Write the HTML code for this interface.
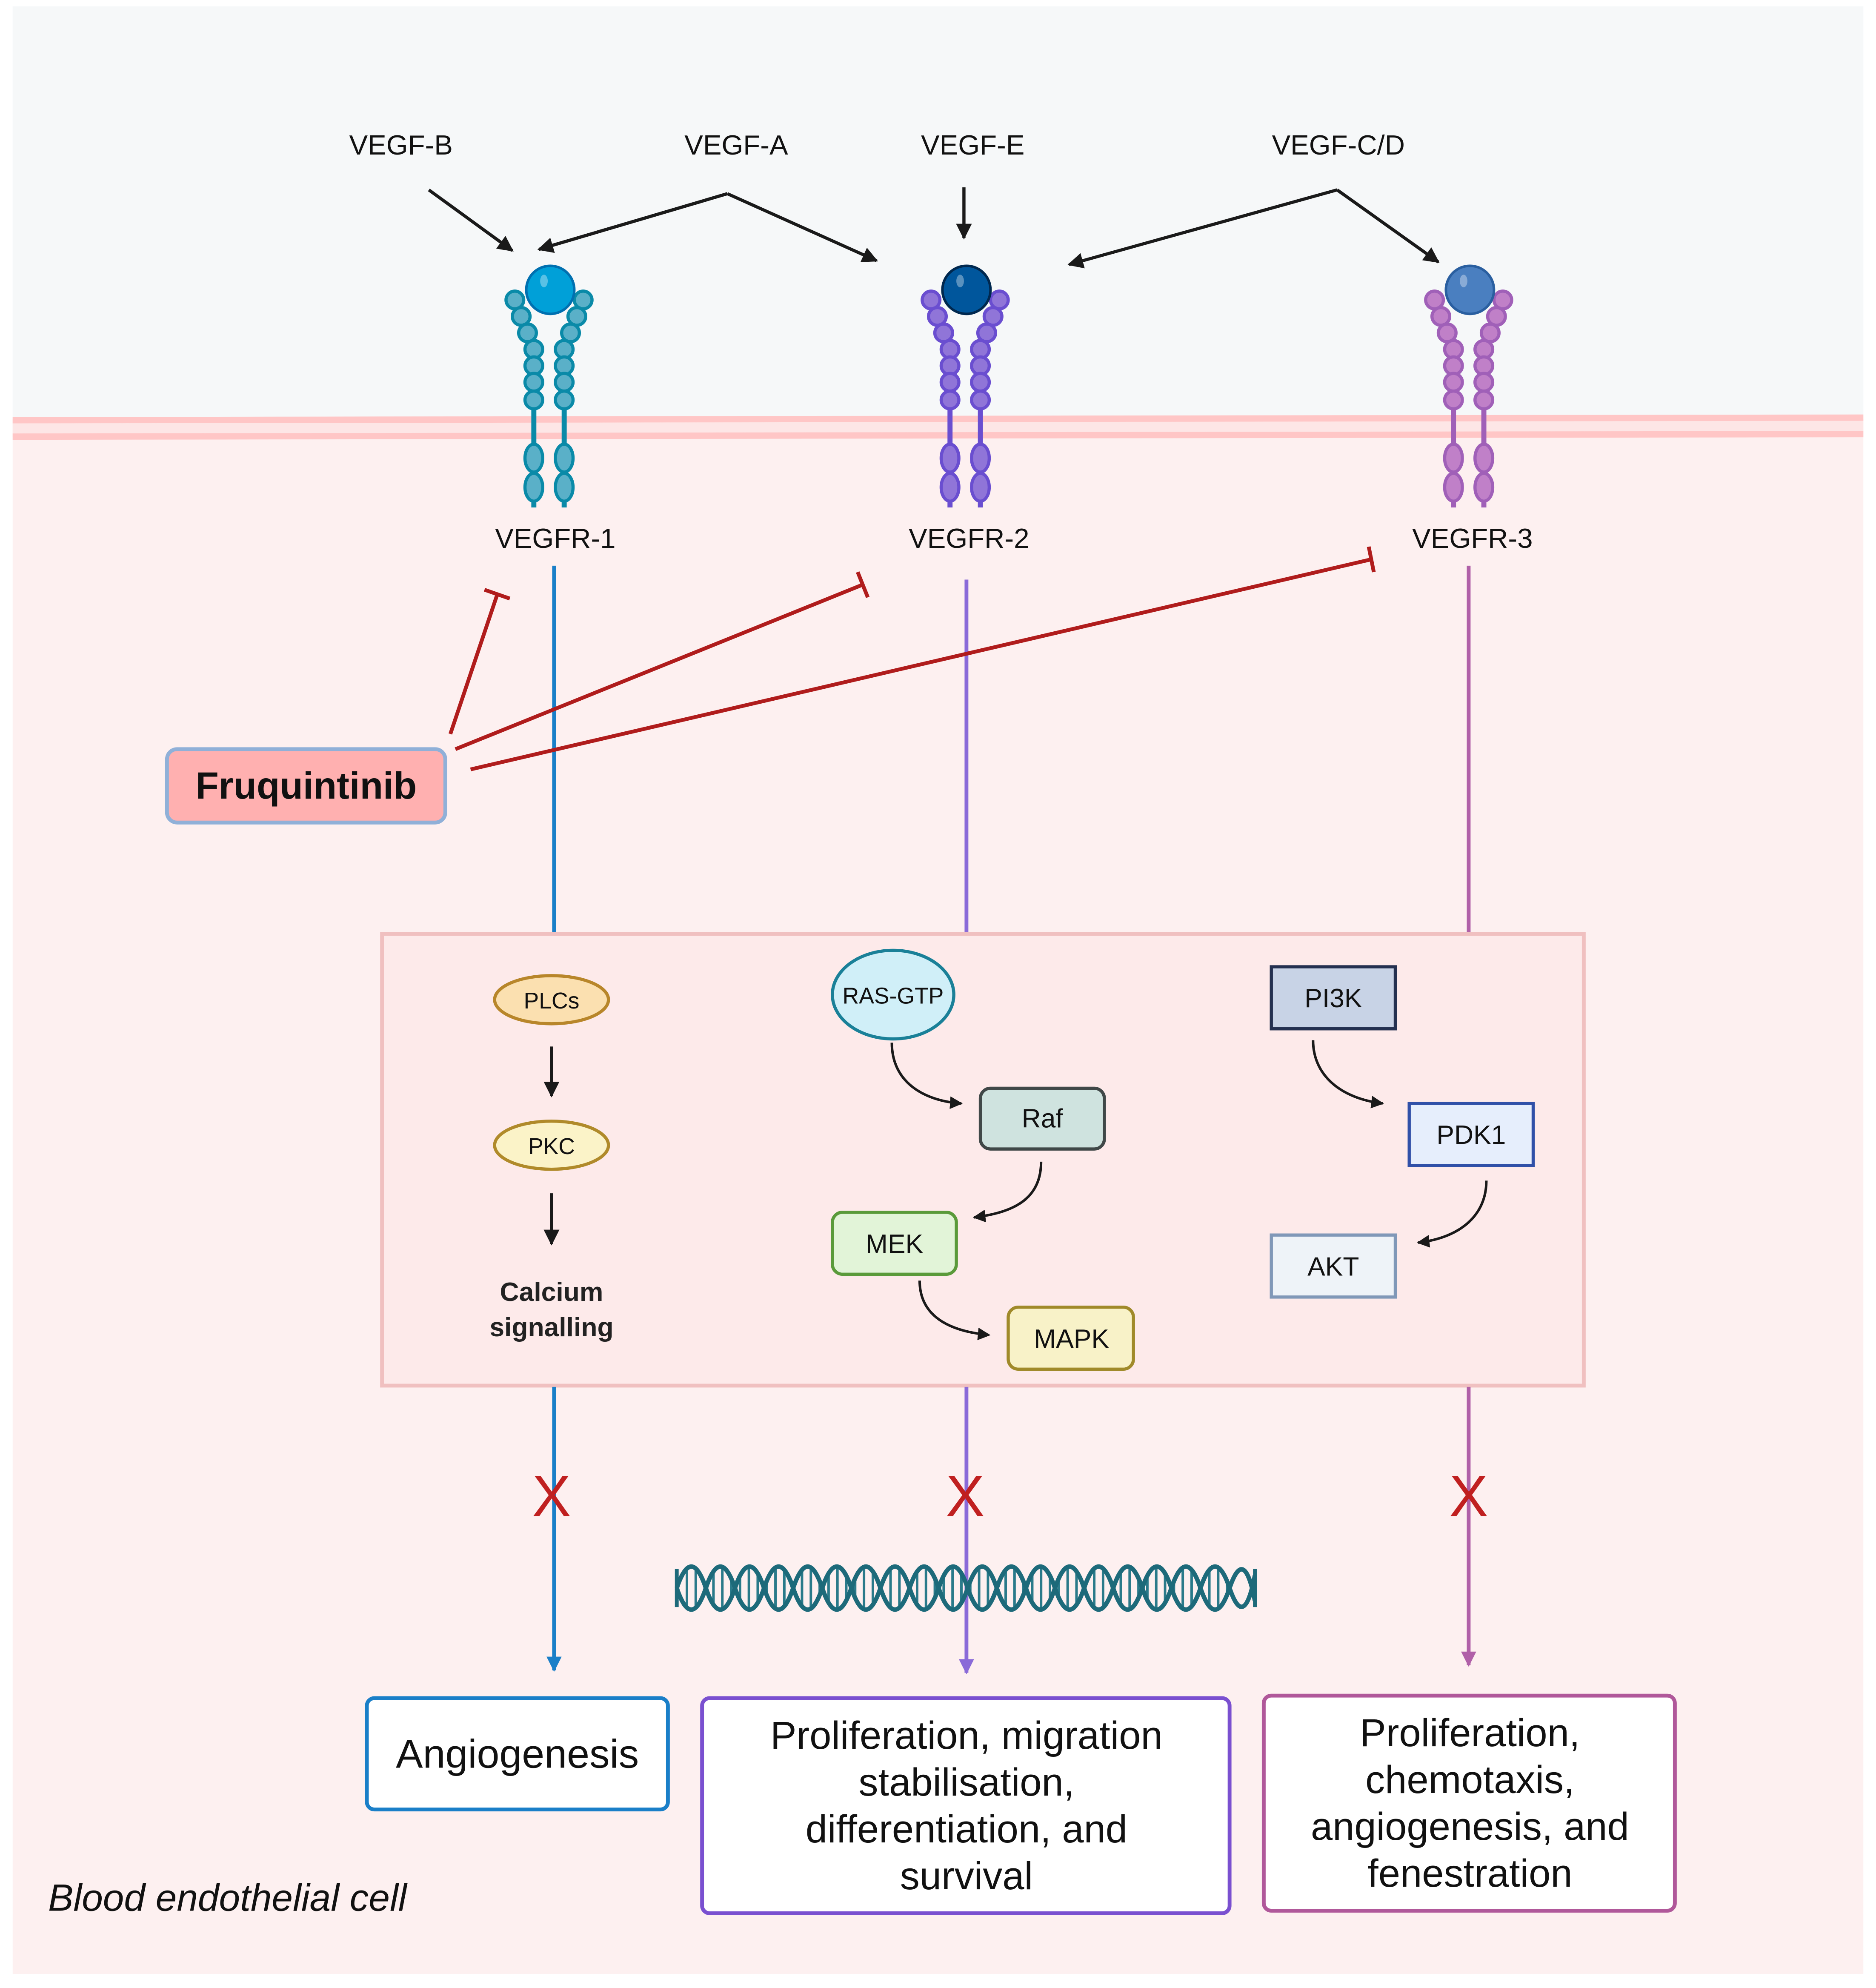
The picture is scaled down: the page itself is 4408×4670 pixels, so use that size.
<!DOCTYPE html>
<html><head><meta charset="utf-8"><style>
html,body{margin:0;padding:0;background:#fff}
svg{display:block}
text{font-family:"Liberation Sans",Arial,sans-serif}
</style></head><body>
<svg width="4408" height="4670" viewBox="0 0 1483 1571" xmlns="http://www.w3.org/2000/svg">
<defs>
<marker id="ah" viewBox="0 0 10 10" refX="9" refY="5" markerWidth="5" markerHeight="5" orient="auto"><path d="M0,0 L10,5 L0,10 z" fill="#1a1a1a"/></marker>
<marker id="ahb" viewBox="0 0 10 10" refX="9" refY="5" markerWidth="4" markerHeight="4" orient="auto"><path d="M0,0 L10,5 L0,10 z" fill="#1a7fc8"/></marker>
<marker id="ahp" viewBox="0 0 10 10" refX="9" refY="5" markerWidth="4" markerHeight="4" orient="auto"><path d="M0,0 L10,5 L0,10 z" fill="#8a6ad8"/></marker>
<marker id="ahm" viewBox="0 0 10 10" refX="9" refY="5" markerWidth="4" markerHeight="4" orient="auto"><path d="M0,0 L10,5 L0,10 z" fill="#b060a8"/></marker>
<symbol id="rec" overflow="visible">
 <g fill="var(--f)" stroke="var(--s)" stroke-width="2.5">
  <line x1="-12" y1="316" x2="-12" y2="401" stroke-width="4"/>
  <line x1="12" y1="316" x2="12" y2="401" stroke-width="4"/>
  <circle cx="-27" cy="237" r="7"/><circle cx="27" cy="237" r="7"/>
  <circle cx="-22" cy="250" r="7"/><circle cx="22" cy="250" r="7"/>
  <circle cx="-17" cy="263" r="7"/><circle cx="17" cy="263" r="7"/>
  <circle cx="-12" cy="276" r="7"/><circle cx="12" cy="276" r="7"/>
  <circle cx="-12" cy="289" r="7"/><circle cx="12" cy="289" r="7"/>
  <circle cx="-12" cy="302" r="7"/><circle cx="12" cy="302" r="7"/>
  <circle cx="-12" cy="316" r="7"/><circle cx="12" cy="316" r="7"/>
  <ellipse cx="-12" cy="362" rx="7" ry="11"/><ellipse cx="12" cy="362" rx="7" ry="11"/>
  <ellipse cx="-12" cy="385" rx="7" ry="11"/><ellipse cx="12" cy="385" rx="7" ry="11"/>
 </g>
 <circle cx="1" cy="229" r="19" fill="var(--b)" stroke="var(--bs)" stroke-width="2"/>
 <ellipse cx="-4" cy="222" rx="3" ry="5" fill="#fff" opacity="0.35"/>
</symbol>
<clipPath id="dnaclip"><path id="lens" d=""/></clipPath>
</defs>

<rect x="0" y="0" width="1483" height="1571" fill="#fff"/>
<rect x="10" y="5" width="1463" height="330" fill="#f6f8f9"/>
<rect x="10" y="333" width="1463" height="1227" fill="#fdf0f0"/>
<rect x="10" y="331" width="1463" height="14" fill="#fde6e6"/>
<line x1="10" y1="332" x2="1473" y2="330" stroke="#ffc6c6" stroke-width="5"/>
<line x1="10" y1="345" x2="1473" y2="343" stroke="#ffc6c6" stroke-width="5"/>

<!-- ligand labels -->
<g font-size="22" fill="#111" text-anchor="middle">
<text x="317" y="122">VEGF-B</text>
<text x="582" y="122">VEGF-A</text>
<text x="769" y="122">VEGF-E</text>
<text x="1058" y="122">VEGF-C/D</text>
</g>
<g stroke="#1a1a1a" stroke-width="2.5" fill="none" marker-end="url(#ah)">
<line x1="339" y1="150" x2="405" y2="198"/>
<polyline points="426,197 575,153" marker-end="none"/>
<line x1="575" y1="153" x2="426" y2="197" marker-end="url(#ah)"/>
<line x1="575" y1="153" x2="693" y2="206"/>
<line x1="762" y1="148" x2="762" y2="188"/>
<line x1="1057" y1="150" x2="845" y2="209"/>
<line x1="1057" y1="150" x2="1137" y2="207"/>
</g>

<use href="#rec" x="434" y="0" style="--f:#5ab0c8;--s:#0a8aa8;--b:#00a0d8;--bs:#0070b0"/>
<use href="#rec" x="763" y="0" style="--f:#9075d8;--s:#6a4ed0;--b:#00569c;--bs:#00284f"/>
<use href="#rec" x="1161" y="0" style="--f:#c080c8;--s:#a060b8;--b:#4a7fc0;--bs:#2a5fa0"/>

<g font-size="22" fill="#111" text-anchor="middle">
<text x="439" y="433">VEGFR-1</text>
<text x="766" y="433">VEGFR-2</text>
<text x="1164" y="433">VEGFR-3</text>
</g>

<!-- vertical pathway lines -->
<line x1="438" y1="447" x2="438" y2="738" stroke="#1a7fc8" stroke-width="3"/>
<line x1="764" y1="458" x2="764" y2="738" stroke="#8a6ad8" stroke-width="3"/>
<line x1="1161" y1="447" x2="1161" y2="738" stroke="#b060a8" stroke-width="3"/>

<!-- inhibition -->
<g stroke="#b01c1c" stroke-width="3" fill="none">
<line x1="356" y1="580" x2="393" y2="470"/>
<line x1="383" y1="466" x2="403" y2="473"/>
<line x1="360" y1="592" x2="682" y2="462"/>
<line x1="678" y1="452" x2="686" y2="472"/>
<line x1="372" y1="608" x2="1084" y2="442"/>
<line x1="1082" y1="432" x2="1086" y2="452"/>
</g>

<rect x="132" y="592" width="220" height="58" rx="8" fill="#ffb0b0" stroke="#90b0d8" stroke-width="3"/>
<text x="242" y="631" font-size="30" font-weight="bold" text-anchor="middle" fill="#111">Fruquintinib</text>

<!-- pathway box -->
<rect x="302" y="738" width="950" height="357" fill="#fdeaea" stroke="#f0c0c0" stroke-width="3"/>

<ellipse cx="436" cy="790" rx="45" ry="19" fill="#fbe0b0" stroke="#b8862a" stroke-width="2.5"/>
<text x="436" y="797" font-size="18" text-anchor="middle" fill="#111">PLCs</text>
<ellipse cx="436" cy="905" rx="45" ry="19" fill="#fbf3c8" stroke="#b08a2a" stroke-width="2.5"/>
<text x="436" y="912" font-size="18" text-anchor="middle" fill="#111">PKC</text>
<g stroke="#1a1a1a" stroke-width="2.5" marker-end="url(#ah)">
<line x1="436" y1="827" x2="436" y2="866"/>
<line x1="436" y1="943" x2="436" y2="983"/>
</g>
<text x="436" y="1028" font-size="21" font-weight="bold" text-anchor="middle" fill="#222">Calcium</text>
<text x="436" y="1056" font-size="21" font-weight="bold" text-anchor="middle" fill="#222">signalling</text>

<ellipse cx="706" cy="786" rx="48" ry="35" fill="#d0eff8" stroke="#1a8098" stroke-width="2.5"/>
<text x="706" y="793" font-size="18" text-anchor="middle" fill="#111">RAS-GTP</text>
<rect x="775" y="860" width="98" height="48" rx="8" fill="#cfe3df" stroke="#404848" stroke-width="2.5"/>
<text x="824" y="891" font-size="21" text-anchor="middle" fill="#111">Raf</text>
<rect x="658" y="958" width="98" height="49" rx="8" fill="#e2f4d8" stroke="#5a9a3a" stroke-width="2.5"/>
<text x="707" y="990" font-size="21" text-anchor="middle" fill="#111">MEK</text>
<rect x="797" y="1033" width="99" height="49" rx="8" fill="#f8f2c8" stroke="#a08a2a" stroke-width="2.5"/>
<text x="847" y="1065" font-size="21" text-anchor="middle" fill="#111">MAPK</text>

<rect x="1005" y="764" width="98" height="49" fill="#c8d3e6" stroke="#243050" stroke-width="2.5"/>
<text x="1054" y="796" font-size="21" text-anchor="middle" fill="#111">PI3K</text>
<rect x="1114" y="872" width="98" height="49" fill="#e6eefc" stroke="#3050a8" stroke-width="2.5"/>
<text x="1163" y="904" font-size="21" text-anchor="middle" fill="#111">PDK1</text>
<rect x="1005" y="976" width="98" height="49" fill="#eef3f8" stroke="#8098b8" stroke-width="2.5"/>
<text x="1054" y="1008" font-size="21" text-anchor="middle" fill="#111">AKT</text>

<g stroke="#1a1a1a" stroke-width="2" fill="none" marker-end="url(#ah)">
<path d="M705,824 C705,855 730,870 760,872"/>
<path d="M823,918 C823,945 805,958 770,962"/>
<path d="M727,1012 C727,1040 750,1052 782,1055"/>
<path d="M1038,822 C1038,850 1060,868 1093,872"/>
<path d="M1175,933 C1175,960 1155,978 1121,982"/>
</g>

<!-- lines below box -->
<line x1="438" y1="1096" x2="438" y2="1320" stroke="#1a7fc8" stroke-width="3" marker-end="url(#ahb)"/>
<line x1="764" y1="1096" x2="764" y2="1322" stroke="#8a6ad8" stroke-width="3" marker-end="url(#ahp)"/>
<line x1="1161" y1="1096" x2="1161" y2="1316" stroke="#b060a8" stroke-width="3" marker-end="url(#ahm)"/>

<!-- DNA -->
<g fill="none" stroke="#1d6a7a">
<g clip-path="url(#dnaclip2)">
<line x1="535" y1="1255" x2="992" y2="1255" stroke-width="32" stroke-dasharray="2 5" stroke="#2a7a8a"/>
</g>
<path stroke-width="3.5" d="M535,1255 Q546.5,1221 558,1255 T581,1255 T604,1255 T627,1255 T650,1255 T673,1255 T696,1255 T719,1255 T742,1255 T765,1255 T788,1255 T811,1255 T834,1255 T857,1255 T880,1255 T903,1255 T926,1255 T949,1255 T972,1255 T992,1245"/>
<path stroke-width="3.5" d="M535,1255 Q546.5,1289 558,1255 T581,1255 T604,1255 T627,1255 T650,1255 T673,1255 T696,1255 T719,1255 T742,1255 T765,1255 T788,1255 T811,1255 T834,1255 T857,1255 T880,1255 T903,1255 T926,1255 T949,1255 T972,1255 T992,1265"/>
<line x1="535" y1="1240" x2="535" y2="1270" stroke-width="3"/>
<line x1="992" y1="1240" x2="992" y2="1270" stroke-width="3"/>
</g>
<clipPath id="dnaclip2"><path d="M535,1255 Q546.5,1221 558,1255 T581,1255 T604,1255 T627,1255 T650,1255 T673,1255 T696,1255 T719,1255 T742,1255 T765,1255 T788,1255 T811,1255 T834,1255 T857,1255 T880,1255 T903,1255 T926,1255 T949,1255 T972,1255 L992,1255 L972,1255 Q960.5,1289 949,1255 T926,1255 T903,1255 T880,1255 T857,1255 T834,1255 T811,1255 T788,1255 T765,1255 T742,1255 T719,1255 T696,1255 T673,1255 T650,1255 T627,1255 T604,1255 T581,1255 T558,1255 T535,1255 Z"/></clipPath>

<!-- red X -->
<g font-size="46" fill="#c02020" text-anchor="middle">
<text x="436" y="1198">X</text>
<text x="763" y="1198">X</text>
<text x="1161" y="1198">X</text>
</g>

<!-- outcome boxes -->
<rect x="290" y="1342" width="238" height="88" rx="6" fill="#fff" stroke="#1a7fc8" stroke-width="3"/>
<text x="409" y="1397" font-size="32" text-anchor="middle" fill="#111">Angiogenesis</text>
<rect x="555" y="1342" width="417" height="170" rx="6" fill="#fff" stroke="#7a50d0" stroke-width="3"/>
<g font-size="31" text-anchor="middle" fill="#111">
<text x="764" y="1382">Proliferation, migration</text>
<text x="764" y="1419">stabilisation,</text>
<text x="764" y="1456">differentiation, and</text>
<text x="764" y="1493">survival</text>
</g>
<rect x="999" y="1340" width="325" height="170" rx="6" fill="#fff" stroke="#b0589a" stroke-width="3"/>
<g font-size="31" text-anchor="middle" fill="#111">
<text x="1162" y="1380">Proliferation,</text>
<text x="1162" y="1417">chemotaxis,</text>
<text x="1162" y="1454">angiogenesis, and</text>
<text x="1162" y="1491">fenestration</text>
</g>

<text x="38" y="1510" font-size="30" font-style="italic" fill="#111">Blood endothelial cell</text>
</svg>
</body></html>
